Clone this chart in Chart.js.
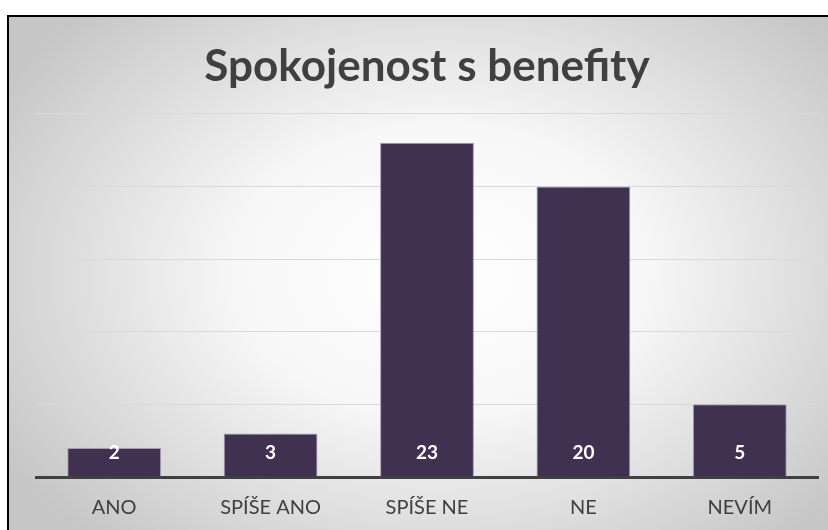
<!DOCTYPE html>
<html lang="cs">
<head>
  <meta charset="UTF-8">
  <title>Spokojenost s benefity</title>
  <script src="https://cdn.jsdelivr.net/npm/chart.js"></script>
  <style>
    html, body {
      margin: 0;
      padding: 0;
      background: #ffffff;
      width: 828px;
      height: 530px;
      overflow: hidden;
    }
    .frame {
      position: absolute;
      left: 7px;
      top: 15px;
      width: 830px;
      height: 530px;
      border-top: 2px solid #000;
      border-left: 2px solid #000;
      background: radial-gradient(ellipse 62% 68% at 52% 48%, #ffffff 0%, #f7f7f7 40%, #c6c6c6 100%);
    }
    .chart-box {
      position: absolute;
      left: 0;
      top: 0;
      width: 828px;
      height: 530px;
    }
  </style>
</head>
<body>
<div class="frame"></div>
<div class="chart-box">
  <canvas id="myChart" width="828" height="530"></canvas>
</div>
<script>
  const categories = ['ANO', 'SPÍŠE ANO', 'SPÍŠE NE', 'NE', 'NEVÍM'];
  const counts = [2, 3, 23, 20, 5];
  const titleText = 'Spokojenost s benefity';

  // hodnoty uvnitř sloupců, kousek nad osou
  const valueLabels = {
    id: 'valueLabels',
    afterDatasetsDraw(chart) {
      const ctx = chart.ctx;
      const meta = chart.getDatasetMeta(0);
      const base = chart.scales.y.getPixelForValue(0);
      ctx.save();
      ctx.fillStyle = '#ffffff';
      ctx.font = 'bold 19px Lato';
      ctx.textAlign = 'center';
      ctx.textBaseline = 'middle';
      meta.data.forEach((bar, i) => {
        ctx.fillText(String(counts[i]), bar.x, base - 24);
      });
      ctx.restore();
    }
  };

  const ctx = document.getElementById('myChart').getContext('2d');
  const myChart = new Chart(ctx, {
    type: 'bar',
    data: {
      labels: categories,
      datasets: [{
        data: counts,
        backgroundColor: '#403151',
        borderColor: '#a79db3',
        borderWidth: 1,
        borderSkipped: 'bottom',
        categoryPercentage: 0.6,
        barPercentage: 1
      }]
    },
    options: {
      responsive: false,
      animation: false,
      layout: {
        padding: { left: 36, right: 10, top: 0, bottom: 0 }
      },
      plugins: {
        legend: { display: false },
        tooltip: { enabled: false },
        title: {
          display: true,
          text: titleText,
          color: '#404040',
          font: { family: 'Lato', size: 44, weight: 'bold' },
          padding: { top: 40, bottom: 21 }
        }
      },
      scales: {
        x: {
          grid: { display: false, drawTicks: false },
          border: { display: true, color: '#404040', width: 3 },
          ticks: {
            color: '#404040',
            font: { family: 'Lato', size: 20 },
            padding: 19
          },
          afterFit(scale) {
            scale.height = 53;
          }
        },
        y: {
          min: 0,
          max: 25,
          ticks: { display: false, stepSize: 5 },
          border: { display: false },
          grid: { color: '#d9d9d9', lineWidth: 1, drawTicks: false }
        }
      }
    },
    plugins: [valueLabels]
  });
</script>
</body>
</html>
